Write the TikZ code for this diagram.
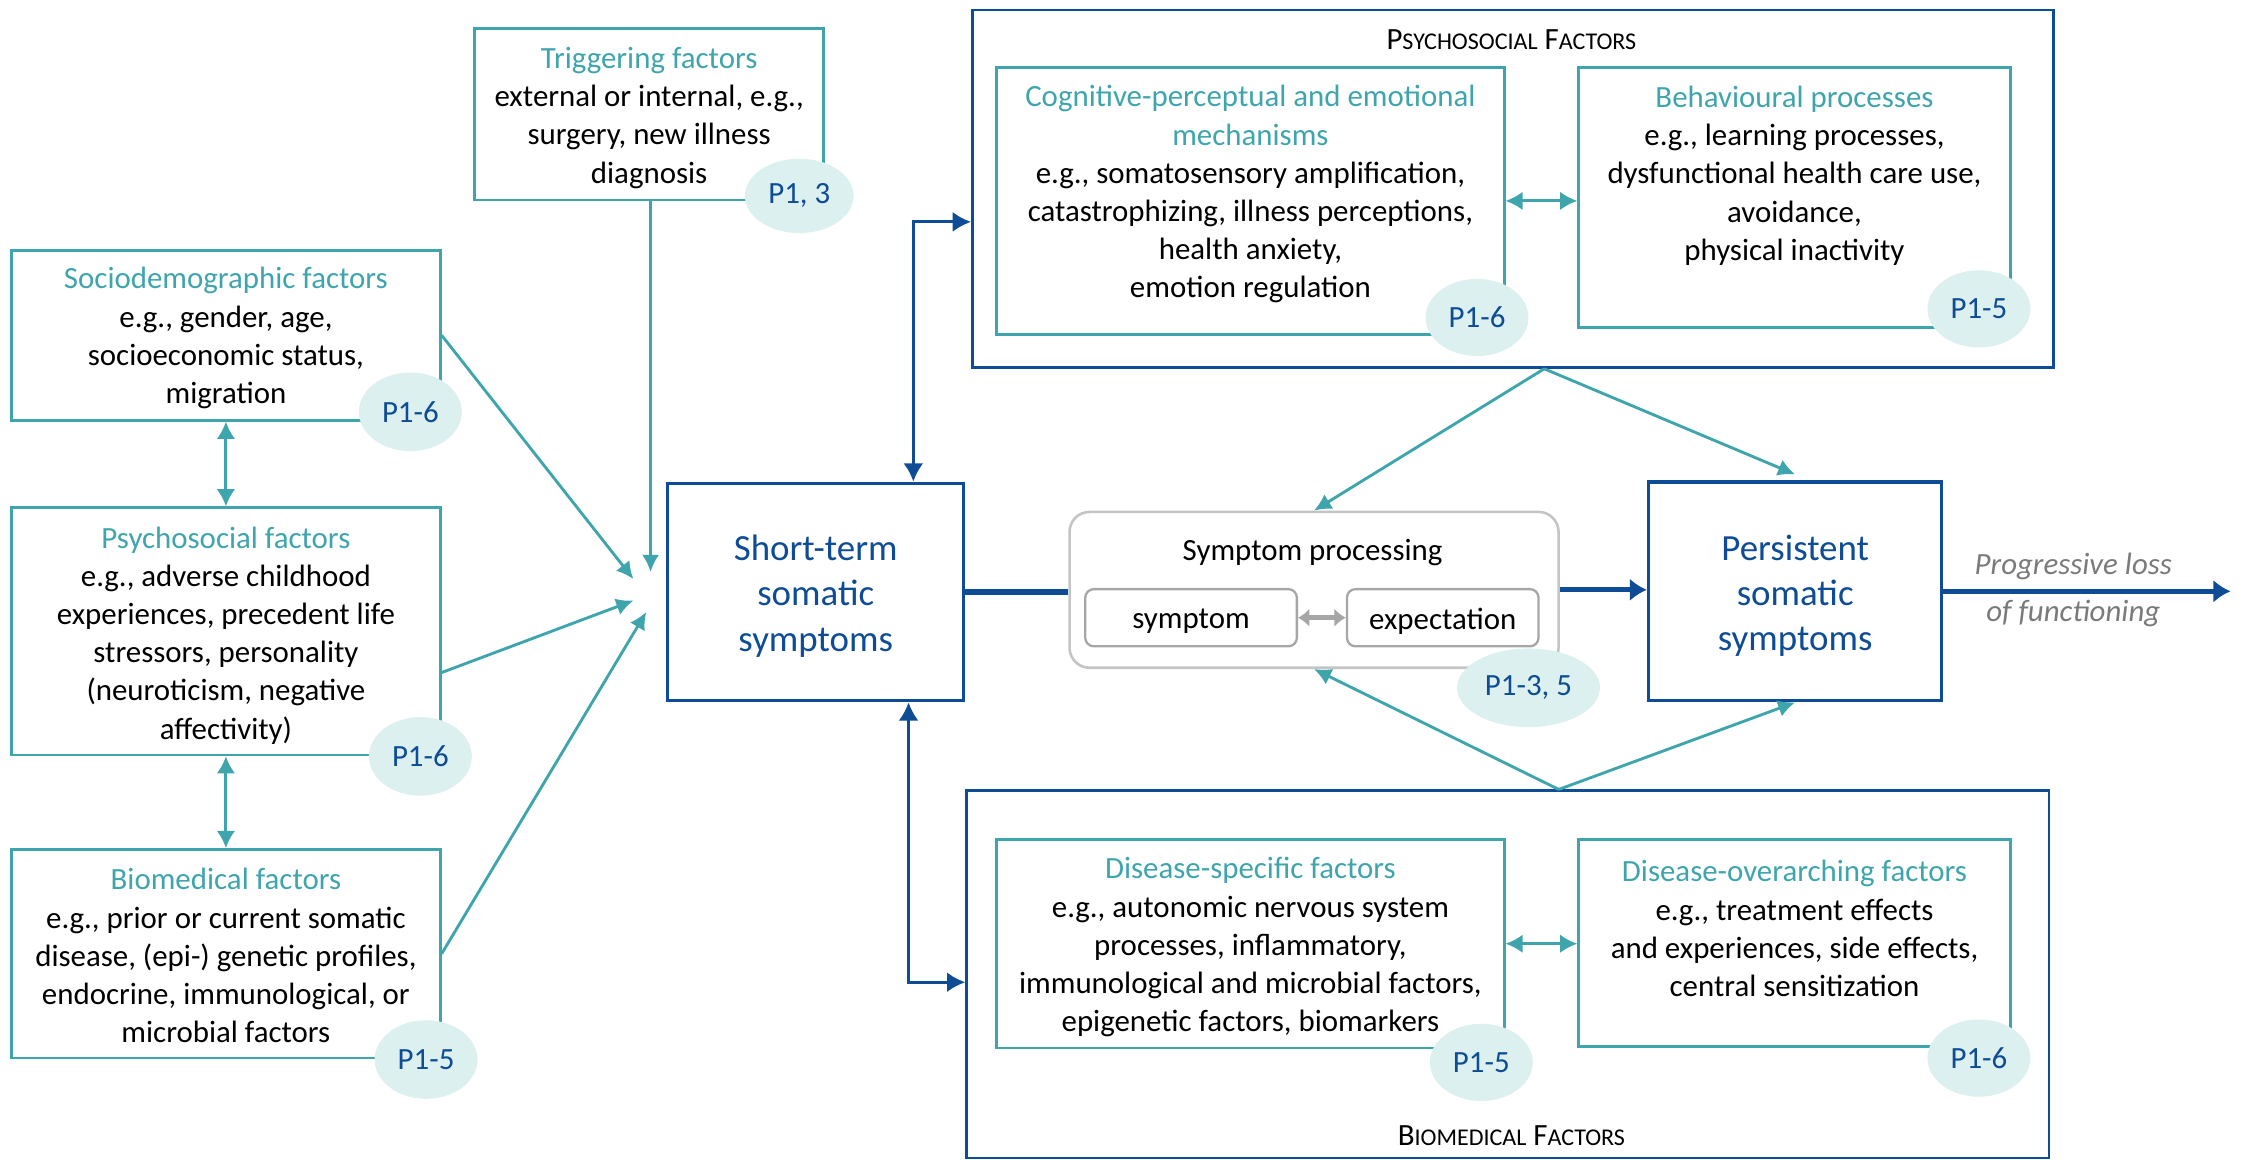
\documentclass[tikz,border=0pt]{standalone}
\usepackage{fontspec}
\setmainfont{Carlito}
\usetikzlibrary{arrows.meta,shapes.geometric,calc}
\definecolor{teal1}{HTML}{3FA5AD}
\definecolor{dblue}{HTML}{0E4C96}
\definecolor{ellfill}{HTML}{DDF0F0}
\definecolor{gray1}{HTML}{A6A6A6}
\definecolor{gray3}{HTML}{C4C4C4}
\definecolor{gray2}{HTML}{7A7A7A}
\newcommand{\dgbody}{\fontsize{10.8}{13.35}\selectfont}
\newcommand{\dgbig}{\fontsize{12.9}{15.75}\selectfont}
\newcommand{\dgsc}[1]{{\fontsize{8.4}{10}\selectfont #1}}
\begin{document}
\begin{tikzpicture}[x=0.5pt,y=-0.5pt,
  tbox/.style={draw=teal1,line width=0.9pt,inner sep=0},
  obox/.style={draw=dblue,line width=0.9pt,inner sep=0},
  mbox/.style={draw=dblue,line width=1.2pt,inner sep=0},
  txt/.style={align=center,inner sep=0,font=\dgbody,yshift=-1.2pt},
  pell/.style={ellipse,fill=ellfill,text=dblue,inner sep=0,font=\dgbody},
  tarr/.style={draw=teal1,line width=1pt,-{Latex[length=6pt,width=6pt]}},
  tdarr/.style={draw=teal1,line width=1pt,{Latex[length=6pt,width=6.5pt]}-{Latex[length=6pt,width=6.5pt]}},
  barr/.style={draw=dblue,line width=1pt,{Latex[length=6.4pt,width=7pt]}-{Latex[length=6.4pt,width=7pt]}},
  bigarr/.style={draw=dblue,line width=1.8pt,-{Latex[length=6pt,width=8pt]}},
  gbox/.style={draw=gray1,line width=0.8pt,rounded corners=3pt,inner sep=0}
]
\useasboundingbox (0,0) rectangle (1568,811);

% ---------- left column ----------
\node[tbox,minimum width=122pt,minimum height=60pt] (trig) at (454,80) {};
\node[txt] (trigT) at (454,80) {\textcolor{teal1}{Triggering factors}\\external or internal, e.g.,\\surgery, new illness\\diagnosis};

\node[tbox,minimum width=150pt,minimum height=59.5pt] (socio) at (158,234.5) {};
\node[txt] (socioT) at (158,234) {\textcolor{teal1}{Sociodemographic factors}\\e.g., gender, age,\\socioeconomic status,\\migration};

\node[tbox,minimum width=150pt,minimum height=86.5pt] (psych) at (158,441.5) {};
\node[txt] (psychT) at (158,442) {\textcolor{teal1}{Psychosocial factors}\\e.g., adverse childhood\\experiences, precedent life\\stressors, personality\\(neuroticism, negative\\affectivity)};

\node[tbox,minimum width=150pt,minimum height=73pt] (bio) at (158,667) {};
\node[txt] (bioT) at (158,666) {\textcolor{teal1}{Biomedical factors}\\e.g., prior or current somatic\\disease, (epi-) genetic profiles,\\endocrine, immunological, or\\microbial factors};

% ---------- centre ----------
\node[mbox,minimum width=103.5pt,minimum height=76pt] (short) at (570.5,414) {};
\node[txt,font=\dgbig,text=dblue] (shortT) at (570.5,414.5) {Short-term\\somatic\\symptoms};

\node[draw=gray3,line width=0.9pt,rounded corners=7pt,minimum width=171pt,minimum height=54.5pt,inner sep=0] (symproc) at (919,412.5) {};
\node[txt] (symprocT) at (918,384) {Symptom processing};
\node[gbox,minimum width=74pt,minimum height=20pt] (symptom) at (833,432) {};
\node[txt] (symptomT) at (833,432) {symptom};
\node[gbox,minimum width=67pt,minimum height=20pt] (expect) at (1009,432) {};
\node[txt] (expectT) at (1009,432) {expectation};

\node[mbox,minimum width=102.5pt,minimum height=76.5pt] (persist) at (1255.5,413.5) {};
\node[txt,font=\dgbig,text=dblue] (persistT) at (1255.5,414.5) {Persistent\\somatic\\symptoms};

\node[txt,text=gray2,font=\dgbody\itshape,align=center] (progT) at (1450,410) {Progressive loss\\[3pt]of functioning};
\coordinate (progEnd) at (1560,413.5);

% ---------- psychosocial group ----------
\node[obox,minimum width=378pt,minimum height=125pt] (psyOuter) at (1058,132) {};
\node[txt] (psyOuterT) at (1057,25) {P\dgsc{SYCHOSOCIAL} F\dgsc{ACTORS}};
\node[tbox,minimum width=177.5pt,minimum height=93.5pt] (cog) at (874.5,140.5) {};
\node[txt] (cogT) at (874.5,133.5) {\textcolor{teal1}{Cognitive-perceptual and emotional}\\\textcolor{teal1}{mechanisms}\\e.g., somatosensory amplification,\\catastrophizing, illness perceptions,\\health anxiety,\\emotion regulation};
\node[tbox,minimum width=151pt,minimum height=91pt] (beh) at (1255,138) {};
\node[txt] (behT) at (1255,120.5) {\textcolor{teal1}{Behavioural processes}\\e.g., learning processes,\\dysfunctional health care use,\\avoidance,\\physical inactivity};

% ---------- biomedical group ----------
\node[obox,minimum width=378.5pt,minimum height=128.5pt] (bioOuter) at (1054.5,681.5) {};
\node[txt] (bioOuterT) at (1057,792) {B\dgsc{IOMEDICAL} F\dgsc{ACTORS}};
\node[tbox,minimum width=177.5pt,minimum height=73pt] (dis) at (874.5,660) {};
\node[txt] (disT) at (874.5,660) {\textcolor{teal1}{Disease-specific factors}\\e.g., autonomic nervous system\\processes, inflammatory,\\immunological and microbial factors,\\epigenetic factors, biomarkers};
\node[tbox,minimum width=151pt,minimum height=72.5pt] (over) at (1255,659.5) {};
\node[txt] (overT) at (1255,647) {\textcolor{teal1}{Disease-overarching factors}\\e.g., treatment effects\\and experiences, side effects,\\central sensitization};

% ---------- ellipses ----------
\node[pell,minimum width=38pt,minimum height=26pt] (trigE) at (559,137) {P1, 3};
\node[pell,minimum width=36pt,minimum height=27.5pt] (socioE) at (287,288) {P1-6};
\node[pell,minimum width=36pt,minimum height=27.5pt] (psychE) at (294,529) {P1-6};
\node[pell,minimum width=36pt,minimum height=27.5pt] (bioE) at (298,741) {P1-5};
\node[pell,minimum width=36pt,minimum height=27pt] (cogE) at (1033,222) {P1-6};
\node[pell,minimum width=36pt,minimum height=27pt] (behE) at (1384,216) {P1-5};
\node[pell,minimum width=36pt,minimum height=27pt] (disE) at (1036,743) {P1-5};
\node[pell,minimum width=36pt,minimum height=27pt] (overE) at (1384,740) {P1-6};
\node[pell,minimum width=50pt,minimum height=27.5pt] (spE) at (1069,481) {P1-3, 5};

% ---------- converging teal arrows ----------
\coordinate (cT) at (455,400);
\coordinate (cS) at (443,405);
\coordinate (cP) at (443,420);
\coordinate (cB) at (452,428);
\draw[tarr] (trig.south -| cT) -- (cT);
\draw[tarr] (socio.east) -- (cS);
\draw[tarr] ($(psych.north east)!0.665!(psych.south east)$) -- (cP);
\draw[tarr] (bio.east) -- (cB);
\draw[tdarr] (socio.south) -- (psych.north);
\draw[tdarr] (psych.south) -- (bio.north);

% ---------- dark blue connectors ----------
\draw[barr] ($(short.north west)!0.826!(short.north east)$) |- ($(psyOuter.north west)!0.592!(psyOuter.south west)$);
\draw[barr] ($(short.south west)!0.81!(short.south east)$) |- ($(bioOuter.north west)!0.521!(bioOuter.south west)$);
\draw[draw=dblue,line width=1.8pt] (short.east) -- (short.east -| symproc.west);
\draw[bigarr] (symproc.east) -- (symproc.east -| persist.west);
\draw[bigarr] (persist.east) -- (progEnd);

% ---------- group arrows ----------
\coordinate (pO) at ($(psyOuter.south west)!0.529!(psyOuter.south east)$);
\coordinate (bO) at ($(bioOuter.north west)!0.547!(bioOuter.north east)$);
\draw[tarr] (pO) -- (symproc.north);
\draw[tarr] (pO) -- ([yshift=2pt]persist.north);
\draw[tarr] (bO) -- (symproc.south);
\draw[tarr] (bO) -- (persist.south);
\draw[tdarr] (cog.east) -- (cog.east -| beh.west);
\draw[tdarr] (dis.east) -- (dis.east -| over.west);
\draw[draw=gray1,line width=1.8pt,{Latex[length=4pt,width=6.5pt]}-{Latex[length=4pt,width=6.5pt]}] (symptom.east) -- (expect.west);
\end{tikzpicture}
\end{document}
